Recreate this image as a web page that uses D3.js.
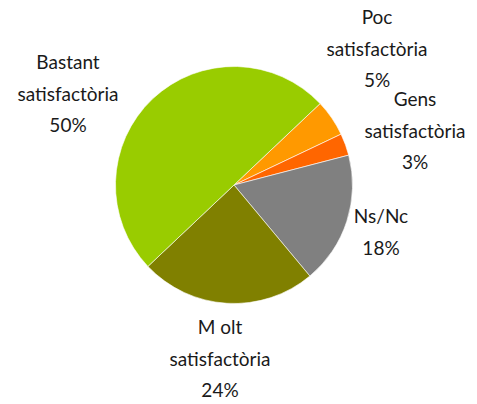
<!DOCTYPE html>
<html>
<head>
<meta charset="utf-8">
<script src="https://cdn.jsdelivr.net/npm/d3@7"></script>
<style>
  body { margin: 0; background: #fff; }
  svg text { font-family: "Century Gothic", "Lato", "DejaVu Sans", sans-serif; fill: #1a1a1a; }
</style>
</head>
<body>
<div id="chart"></div>
<script>
const width = 477;
const height = 404;

// categories in clockwise order, starting just right of the top
const categories = ["Poc satisfactòria", "Gens satisfactòria", "Ns/Nc", "Molt satisfactòria", "Bastant satisfactòria"];
const values = [5, 3, 18, 24, 50];
const colors = ["#FF9900", "#FF6600", "#808080", "#808000", "#99CC00"];

// label lines and where each label block sits (layout only)
const labelLines = [
    ["Poc", "satisfactòria", "5%"],
    ["Gens", "satisfactòria", "3%"],
    ["Ns/Nc", "18%"],
    ["M olt", "satisfactòria", "24%"],
    ["Bastant", "satisfactòria", "50%"]
];
const labelPos = [
    [377, 24], [415, 106], [381, 223], [220, 334], [68, 69]
];

const cx = 234, cy = 185, r = 118.5;
const startAngle = 46.6 * Math.PI / 180;

const pie = d3.pie()
    .sort(null)
    .startAngle(startAngle)
    .endAngle(startAngle + 2 * Math.PI)
    .value(d => d);

const arc = d3.arc().innerRadius(0).outerRadius(r);

const svg = d3.select("#chart").append("svg")
    .attr("width", width)
    .attr("height", height);

const g = svg.append("g")
    .attr("transform", `translate(${cx},${cy})`);

g.selectAll("path")
  .data(pie(values))
  .join("path")
    .attr("d", arc)
    .attr("fill", (d, i) => colors[i])
    .attr("stroke", "#fff")
    .attr("stroke-width", 0.6);

const labels = svg.append("g")
  .selectAll("text")
  .data(labelLines)
  .join("text")
    .attr("text-anchor", "middle")
    .attr("font-size", 19)
    .attr("transform", (d, i) => `translate(${labelPos[i][0]},${labelPos[i][1]})`);

labels.selectAll("tspan")
  .data(d => d)
  .join("tspan")
    .attr("x", 0)
    .attr("y", (d, i) => i * 31.5)
    .text(d => d);
</script>
</body>
</html>
